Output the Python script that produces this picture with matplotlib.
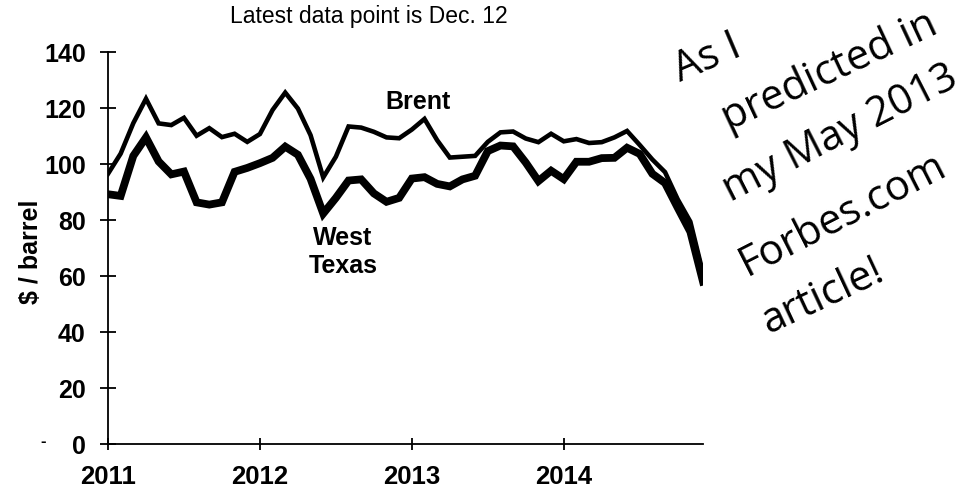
import numpy as np
import matplotlib
matplotlib.use("Agg")
import matplotlib.pyplot as plt

# monthly averages, Jan 2011 .. Dec 2014 ($ / barrel)
brent = [96.5, 103.7, 114.6, 123.3, 114.5, 113.9, 116.5, 110.1, 112.8, 109.6, 110.8, 107.9,
         110.7, 119.3, 125.5, 119.8, 110.3, 95.2, 102.6, 113.4, 113.0, 111.5, 109.5, 109.2,
         112.3, 116.1, 108.5, 102.3, 102.6, 102.9, 107.9, 111.3, 111.6, 109.1, 107.8, 110.8,
         108.1, 108.9, 107.5, 107.8, 109.5, 111.8, 106.8, 101.6, 97.1, 87.4, 79.4, 61.0]
wti = [89.2, 88.6, 102.9, 109.5, 100.9, 96.3, 97.3, 86.3, 85.5, 86.3, 97.2, 98.6,
       100.3, 102.2, 106.2, 103.3, 94.7, 82.3, 87.9, 94.1, 94.5, 89.5, 86.5, 87.9,
       94.8, 95.3, 92.9, 92.0, 94.5, 95.8, 104.6, 106.6, 106.3, 100.5, 93.9, 97.6,
       94.6, 100.8, 100.8, 102.1, 102.2, 105.8, 103.6, 96.5, 93.2, 84.4, 75.8, 58.0]
months = np.arange(len(brent))

year_ticks = [0, 12, 24, 36]
year_labels = ["2011", "2012", "2013", "2014"]
y_ticks = [0, 20, 40, 60, 80, 100, 120, 140]

note_lines = ["As I", "predicted in", "my May 2013", "Forbes.com", "article!"]

plt.rcParams["font.family"] = ["Liberation Sans", "DejaVu Sans"]

fig = plt.figure(figsize=(9.72, 4.9), dpi=100)
W, H = 972, 490
ax = fig.add_axes([108 / W, 1 - 444 / H, (703 - 108) / W, (444 - 52) / H])

ax.plot(months, brent, color="black", lw=3.3, solid_joinstyle="miter", zorder=3)
ax.plot(months, wti, color="black", lw=5.6, solid_joinstyle="miter", zorder=3)

ax.set_xlim(0, 47)
ax.set_ylim(0, 140)
for s in ["top", "right"]:
    ax.spines[s].set_visible(False)
for s in ["left", "bottom"]:
    ax.spines[s].set_linewidth(1.3)
    ax.spines[s].set_clip_on(False)

ax.set_xticks(year_ticks)
ax.set_xticklabels(year_labels, fontsize=18.5, fontweight="bold")
ax.set_yticks(y_ticks)
ax.set_yticklabels([str(v) for v in y_ticks], fontsize=18, fontweight="bold")
ax.tick_params(axis="y", direction="inout", length=12, width=1.3, pad=10)
ax.tick_params(axis="x", direction="inout", length=8, width=1.3, pad=11)

fig.text(31 / W, 1 - 252 / H, "$ / barrel", rotation=90, ha="center", va="center",
         fontsize=18, fontweight="bold")
fig.text(43 / W, 1 - 441 / H, "-", ha="center", va="center", fontsize=12, fontweight="bold")
fig.text(369 / W, 1 - 17 / H, "Latest data point is Dec. 12", ha="center", va="center",
         fontsize=16.5)

ax.text(24.5, 122, "Brent", ha="center", va="center", fontsize=18, fontweight="bold")
ax.text(18.55, 68.6, "West\nTexas", ha="center", va="center", fontsize=18,
        fontweight="bold", linespacing=1.2)

# handwritten note
note_pos = [(707, 58), (830, 72), (840, 134), (843, 215), (822, 297)]
note_rot = [23, 25, 27, 27, 25]
for txt, (px, py), r in zip(note_lines, note_pos, note_rot):
    fig.text(px / W, 1 - py / H, txt, rotation=r, rotation_mode="anchor",
             ha="center", va="center", fontsize=30, family=["Open Sans", "DejaVu Sans"])

fig.savefig("out.png", dpi=100)
